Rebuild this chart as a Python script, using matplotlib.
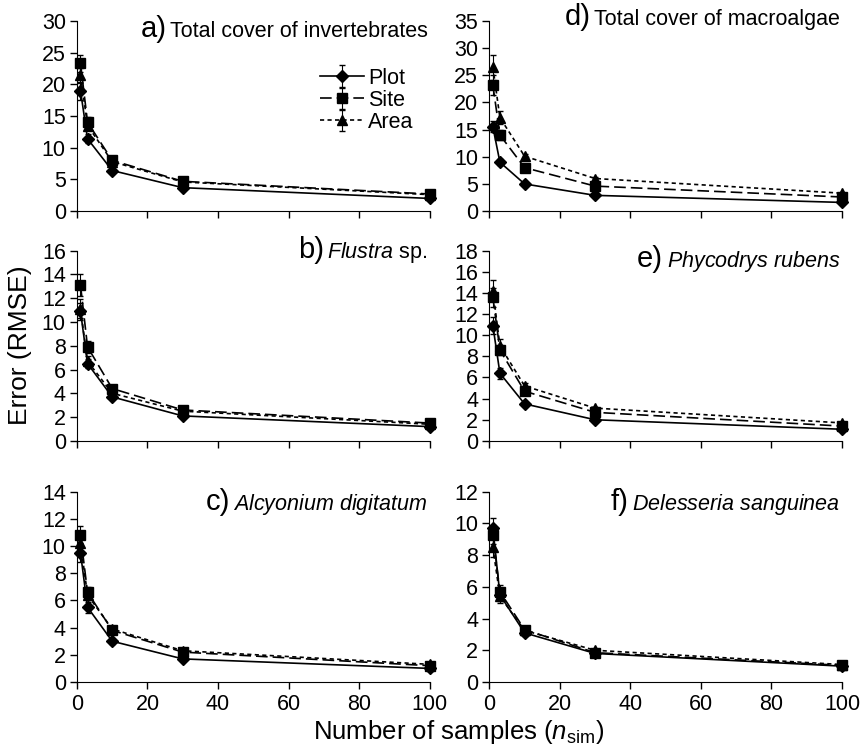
import matplotlib.pyplot as plt

plt.rcParams['font.family'] = ['Liberation Sans', 'DejaVu Sans']
plt.rcParams['mathtext.fontset'] = 'custom'
plt.rcParams['mathtext.rm'] = 'Liberation Sans'
plt.rcParams['mathtext.it'] = 'Liberation Sans:italic'

n_sim = [1, 3, 10, 30, 100]

# panel a) total cover of invertebrates
plot_a = [19.0, 11.4, 6.4, 3.7, 2.0]
site_a = [23.3, 14.0, 8.0, 4.7, 2.7]
area_a = [21.4, 13.5, 7.8, 4.6, 2.6]
err_a = [[1.4, 0.7, 0.3, 0.2, 0.1], [1.3, 0.8, 0.3, 0.2, 0.1], [1.2, 0.7, 0.3, 0.2, 0.1]]

# panel b) Flustra sp.
plot_b = [10.9, 6.5, 3.7, 2.1, 1.2]
site_b = [13.1, 7.9, 4.4, 2.6, 1.5]
area_b = [11.1, 6.7, 4.0, 2.5, 1.4]
err_b = [[0.7, 0.4, 0.2, 0.1, 0.05], [0.9, 0.5, 0.2, 0.1, 0.05], [0.8, 0.4, 0.2, 0.1, 0.05]]

# panel c) Alcyonium digitatum
plot_c = [9.5, 5.5, 3.0, 1.7, 1.0]
site_c = [10.8, 6.6, 3.8, 2.2, 1.2]
area_c = [10.2, 6.4, 3.9, 2.3, 1.3]
err_c = [[0.7, 0.4, 0.2, 0.1, 0.05], [0.7, 0.4, 0.2, 0.1, 0.05], [0.6, 0.4, 0.2, 0.1, 0.05]]

# panel d) total cover of macroalgae
plot_d = [15.5, 9.0, 5.0, 2.9, 1.6]
site_d = [23.2, 14.0, 8.0, 4.6, 2.6]
area_d = [26.5, 17.2, 10.1, 6.0, 3.3]
err_d = [[1.0, 0.5, 0.3, 0.1, 0.1], [1.8, 1.0, 0.4, 0.2, 0.1], [2.3, 1.2, 0.5, 0.2, 0.1]]

# panel e) Phycodrys rubens
plot_e = [10.9, 6.4, 3.5, 2.0, 1.1]
site_e = [13.6, 8.6, 4.7, 2.7, 1.4]
area_e = [14.2, 9.0, 5.2, 3.1, 1.7]
err_e = [[0.8, 0.5, 0.2, 0.1, 0.05], [0.9, 0.5, 0.2, 0.1, 0.05], [1.0, 0.6, 0.3, 0.1, 0.05]]

# panel f) Delesseria sanguinea
plot_f = [9.7, 5.5, 3.1, 1.8, 1.0]
site_f = [9.3, 5.7, 3.3, 1.85, 1.05]
area_f = [8.5, 5.4, 3.25, 2.0, 1.1]
err_f = [[0.65, 0.4, 0.2, 0.1, 0.05], [0.6, 0.4, 0.2, 0.1, 0.05], [0.6, 0.4, 0.2, 0.1, 0.05]]

letters = ['a)', 'b)', 'c)', 'd)', 'e)', 'f)']
names = ['Total cover of invertebrates', r'$\mathit{Flustra}$ sp.',
         r'$\mathit{Alcyonium\ digitatum}$', 'Total cover of macroalgae',
         r'$\mathit{Phycodrys\ rubens}$', r'$\mathit{Delesseria\ sanguinea}$']
ymax = [30, 16, 14, 35, 18, 12]
ystep = [5, 2, 2, 5, 2, 2]
series = [(plot_a, site_a, area_a, err_a), (plot_b, site_b, area_b, err_b),
          (plot_c, site_c, area_c, err_c), (plot_d, site_d, area_d, err_d),
          (plot_e, site_e, area_e, err_e), (plot_f, site_f, area_f, err_f)]
title_y = [0.915, 0.96, 0.905, 0.98, 0.915, 0.905]

fig = plt.figure(figsize=(8.6, 7.46), dpi=100)
lefts = [0.0895, 0.569]
bottoms = [0.717, 0.409, 0.0858]
w, h = 0.41, 0.255

styles = [dict(ls='-', marker='D', ms=6.5, label='Plot'),
          dict(ls=(0, (7, 3)), marker='s', ms=6.5, label='Site'),
          dict(ls=(0, (2.5, 2)), marker='^', ms=7.5, label='Area')]

axes = []
texts = []
for i in range(6):
    col, row = divmod(i, 3)
    ax = fig.add_axes([lefts[col], bottoms[row], w, h])
    axes.append(ax)
    p, s, a, e = series[i]
    for vals, err, st in zip([p, s, a], e, styles):
        ax.errorbar(n_sim, vals, yerr=err, color='black', lw=1.2, elinewidth=0.8,
                    capsize=2, clip_on=False, **st)
    ax.set_xlim(0, 100)
    ax.set_ylim(0, ymax[i])
    ax.set_xticks(range(0, 101, 20))
    ax.set_yticks(range(0, ymax[i] + 1, ystep[i]))
    ax.spines['top'].set_visible(False)
    ax.spines['right'].set_visible(False)
    ax.tick_params(direction='out', length=5, width=1, labelsize=15.5, pad=3)
    ax.tick_params(axis='x', pad=4)
    if row != 2:
        ax.set_xticklabels([])
    t = ax.text(0.995, title_y[i], names[i], transform=ax.transAxes,
                ha='right', va='baseline', fontsize=15.5)
    texts.append(t)

axes[0].legend(loc='upper left', bbox_to_anchor=(0.66, 0.81), frameon=False,
               fontsize=15.5, handlelength=2.0, handletextpad=0.2,
               labelspacing=0.05, borderpad=0)

fig.canvas.draw()
r = fig.canvas.get_renderer()
for ax, t, lab, yy in zip(axes, texts, letters, title_y):
    bb = t.get_window_extent(r)
    x0 = ax.transAxes.inverted().transform((bb.x0, bb.y0))[0]
    ax.text(x0 - 0.01, yy, lab, transform=ax.transAxes, ha='right',
            va='baseline', fontsize=21)

fig.text(0.023, 0.537, 'Error (RMSE)', rotation=90, ha='center', va='center', fontsize=19)
fig.text(0.533, 0.0, r'Number of samples ($\mathit{n}_{\mathrm{sim}}$)',
         ha='center', va='bottom', fontsize=18.5)

plt.savefig('out.png', dpi=100)
